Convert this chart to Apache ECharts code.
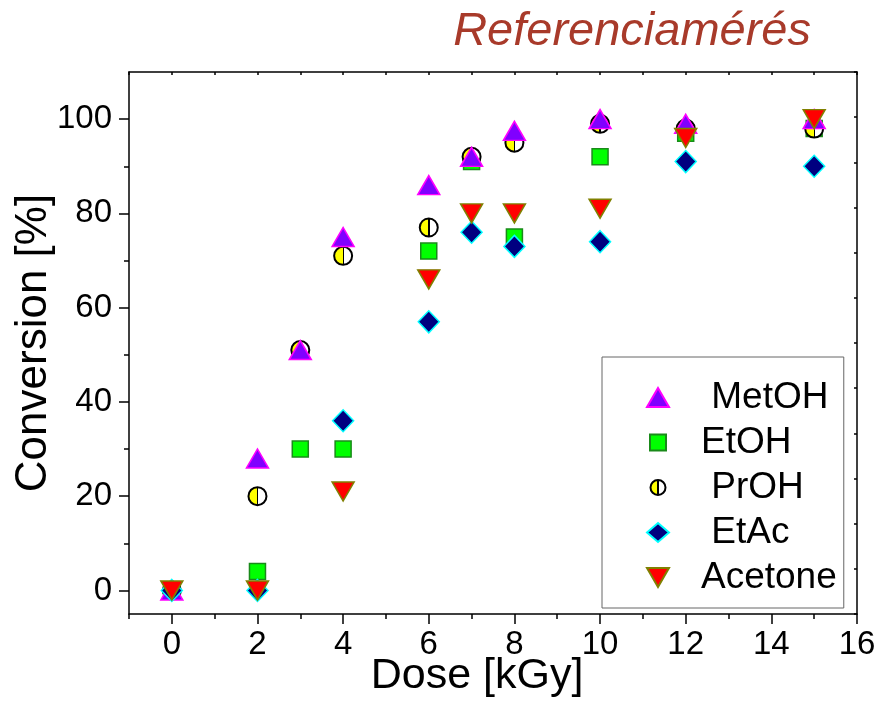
<!DOCTYPE html>
<html>
<head>
<meta charset="utf-8">
<script src="https://cdn.jsdelivr.net/npm/echarts@6/dist/echarts.min.js"></script>
<style>
  html, body { margin: 0; padding: 0; background: #fff; }
  #chart { width: 880px; height: 704px; }
</style>
</head>
<body>
<div id="chart"></div>
<script>
// Conversion vs. absorbed dose for each solvent
const doseMetOH = [0, 2, 3, 4, 6, 7, 8, 10, 12, 15];
const convMetOH = [0, 28, 51, 75, 86, 92, 97.5, 100, 99, 100];

const doseEtOH = [0, 2, 3, 4, 6, 7, 8, 10, 12, 15];
const convEtOH = [0, 4, 30, 30, 72, 91, 75, 92, 97, 98];

const dosePrOH = [0, 2, 3, 4, 6, 7, 8, 10, 12, 15];
const convPrOH = [0, 20, 51, 71, 77, 92, 95, 99, 98, 98];

const doseEtAc = [0, 2, 4, 6, 7, 8, 10, 12, 15];
const convEtAc = [0, 0, 36, 57, 76, 73, 74, 91, 90];

const doseAcetone = [0, 2, 4, 6, 7, 8, 10, 12, 15];
const convAcetone = [0, 0, 21, 66, 80, 80, 81, 96, 100];

const xMajorTicks = [0, 2, 4, 6, 8, 10, 12, 14, 16];
const xMinorTicks = [-1, 1, 3, 5, 7, 9, 11, 13, 15];
const yMajorTicks = [0, 20, 40, 60, 80, 100];
const yMinorTicks = [10, 30, 50, 70, 90];

const legendNames = ['MetOH', 'EtOH', 'PrOH', 'EtAc', 'Acetone'];
const legendPad = { 'MetOH': ' MetOH', 'EtOH': 'EtOH', 'PrOH': ' PrOH', 'EtAc': ' EtAc', 'Acetone': 'Acetone' };

const pairs = (xs, ys) => xs.map((x, i) => [x, ys[i]]);

const FONT = "'Liberation Sans', Arial, Helvetica, sans-serif";
const AXIS_COLOR = '#000';

// Legend icons: the leading moves pin each icon's box to 22x19 so the
// smaller shapes keep their own size inside it.
const legendIcons = {
  MetOH: 'triangle',
  EtOH: 'path://M0,0 M22,19 M3,1.5 L19,1.5 L19,17.5 L3,17.5 Z',
  PrOH: 'path://M0,0 M22,19 M3.5,9.5 A7.5,7.5 0 1,0 18.5,9.5 A7.5,7.5 0 1,0 3.5,9.5 Z',
  EtAc: 'path://M11,0 L22,9.5 L11,19 L0,9.5 Z',
  Acetone: 'path://M0,0 L22,0 L11,19 Z'
};

const halfCircle = new echarts.graphic.LinearGradient(0, 0, 1, 0, [
  { offset: 0, color: '#ffff00' },
  { offset: 0.47, color: '#ffff00' },
  { offset: 0.47, color: '#000' },
  { offset: 0.55, color: '#000' },
  { offset: 0.55, color: '#fff' },
  { offset: 1, color: '#fff' }
]);

const chart = echarts.init(document.getElementById('chart'), null, { renderer: 'canvas' });

const baseX = { type: 'value', min: -1, max: 16, gridIndex: 0, splitLine: { show: false } };
const baseY = { type: 'value', min: -5, max: 110, gridIndex: 0, splitLine: { show: false } };

chart.setOption({
  animation: false,
  backgroundColor: '#fff',
  textStyle: { fontFamily: FONT },
  title: {
    text: 'Referenciamérés',
    right: 64,
    top: 3,
    textStyle: { fontFamily: FONT, fontSize: 47, fontStyle: 'italic', fontWeight: 'normal', color: '#a83a2a' }
  },
  grid: { left: 129, right: 23, top: 72, bottom: 90, containLabel: false, outerBoundsMode: 'none' },
  legend: {
    data: legendNames.map(n => ({ name: n, icon: legendIcons[n] })),
    orient: 'vertical',
    left: 602,
    top: 357,
    padding: [22, 7, 12, 44],
    itemWidth: 22,
    itemHeight: 19,
    itemGap: 8,
    borderColor: '#666',
    borderWidth: 1,
    backgroundColor: '#fff',
    symbolRotate: 0,
    formatter: name => legendPad[name],
    textStyle: { fontFamily: FONT, fontSize: 37, color: '#000', padding: [0, 0, 0, 27] }
  },
  xAxis: [
    Object.assign({}, baseX, {
      position: 'bottom',
      name: 'Dose [kGy]',
      nameLocation: 'middle',
      nameGap: 41,
      nameMoveOverlap: false,
      nameTextStyle: { fontFamily: FONT, fontSize: 43, color: '#000', padding: [0, 32, 0, 0] },
      axisLine: { show: true, onZero: false, lineStyle: { color: AXIS_COLOR, width: 1.5 } },
      axisTick: { show: true, customValues: xMajorTicks, length: 10, inside: false, lineStyle: { color: AXIS_COLOR, width: 1.5 } },
      axisLabel: { show: true, customValues: xMajorTicks, fontFamily: FONT, fontSize: 33, color: '#000', margin: 14 }
    }),
    Object.assign({}, baseX, {
      position: 'bottom',
      axisLine: { show: false, onZero: false },
      axisTick: { show: true, customValues: xMinorTicks, length: 5, inside: false, lineStyle: { color: AXIS_COLOR, width: 1.5 } },
      axisLabel: { show: false }
    }),
    Object.assign({}, baseX, {
      position: 'top',
      interval: 1,
      axisLine: { show: true, onZero: false, lineStyle: { color: AXIS_COLOR, width: 1.5 } },
      axisTick: { show: true, inside: true, length: 3, lineStyle: { color: AXIS_COLOR, width: 1.5 } },
      axisLabel: { show: false }
    })
  ],
  yAxis: [
    Object.assign({}, baseY, {
      position: 'left',
      name: 'Conversion [%]',
      nameLocation: 'middle',
      nameGap: 73,
      nameMoveOverlap: false,
      nameTextStyle: { fontFamily: FONT, fontSize: 44, color: '#000' },
      axisLine: { show: true, onZero: false, lineStyle: { color: AXIS_COLOR, width: 1.5 } },
      axisTick: { show: true, customValues: yMajorTicks, length: 10, inside: false, lineStyle: { color: AXIS_COLOR, width: 1.5 } },
      axisLabel: { show: true, customValues: yMajorTicks, fontFamily: FONT, fontSize: 33, color: '#000', margin: 17 }
    }),
    Object.assign({}, baseY, {
      position: 'left',
      axisLine: { show: false, onZero: false },
      axisTick: { show: true, customValues: yMinorTicks, length: 5, inside: false, lineStyle: { color: AXIS_COLOR, width: 1.5 } },
      axisLabel: { show: false }
    }),
    Object.assign({}, baseY, {
      position: 'right',
      min: -10,
      max: 110,
      interval: 10,
      axisLine: { show: true, onZero: false, lineStyle: { color: AXIS_COLOR, width: 1.5 } },
      axisTick: { show: true, inside: true, length: 3, lineStyle: { color: AXIS_COLOR, width: 1.5 } },
      axisLabel: { show: false }
    })
  ],
  series: [
    {
      name: 'EtOH', type: 'scatter', data: pairs(doseEtOH, convEtOH),
      symbol: 'rect', symbolSize: 16,
      itemStyle: { color: '#00ff00', borderColor: '#1a8a1a', borderWidth: 1.5, opacity: 1 }
    },
    {
      name: 'PrOH', type: 'scatter', data: pairs(dosePrOH, convPrOH),
      symbol: 'circle', symbolSize: 18,
      itemStyle: { color: halfCircle, borderColor: '#000', borderWidth: 2, opacity: 1 }
    },
    {
      name: 'MetOH', type: 'scatter', data: pairs(doseMetOH, convMetOH),
      symbol: 'triangle', symbolSize: [22, 19],
      itemStyle: { color: '#8000ff', borderColor: '#ff00ff', borderWidth: 1.5, opacity: 1 }
    },
    {
      name: 'EtAc', type: 'scatter', data: pairs(doseEtAc, convEtAc),
      symbol: 'diamond', symbolSize: [21, 22],
      itemStyle: { color: '#000080', borderColor: '#00ffff', borderWidth: 1.5, opacity: 1 }
    },
    {
      name: 'Acetone', type: 'scatter', data: pairs(doseAcetone, convAcetone),
      symbol: 'triangle', symbolRotate: 180, symbolSize: [22, 19],
      itemStyle: { color: '#ff0000', borderColor: '#808000', borderWidth: 1.5, opacity: 1 }
    }
  ]
});
</script>
</body>
</html>
